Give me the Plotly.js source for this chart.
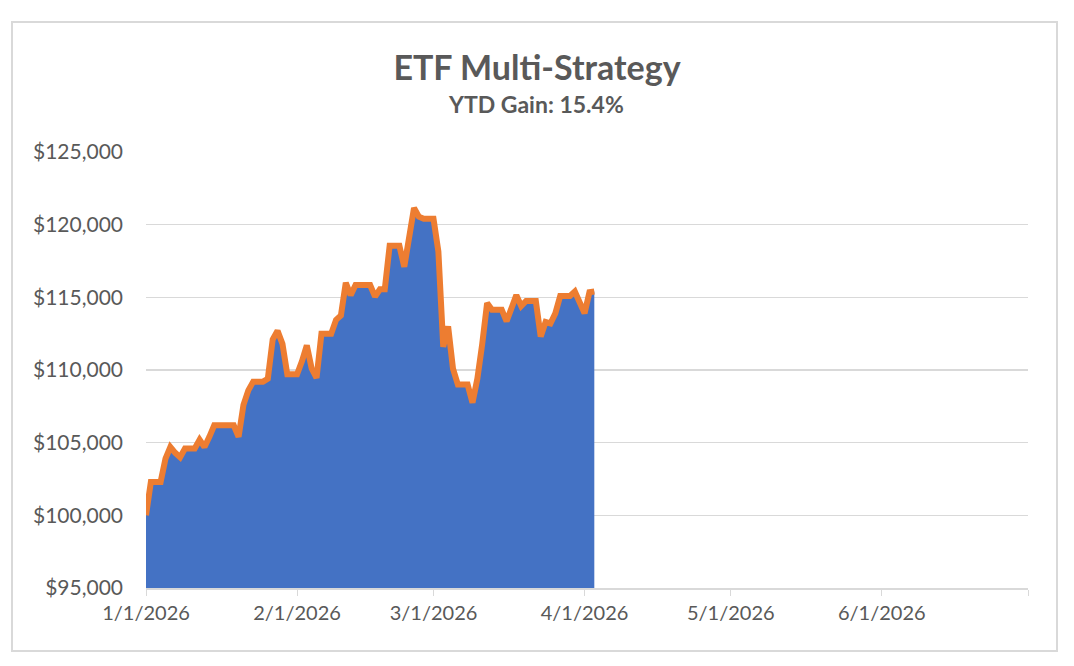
<!DOCTYPE html>
<html>
<head>
<meta charset="utf-8">
<script src="https://cdn.plot.ly/plotly-3.0.1.min.js"></script>
<style>
  html, body { margin: 0; padding: 0; background: #ffffff; }
  #frame {
    position: absolute; left: 11px; top: 21px;
    width: 1047px; height: 631px;
    box-sizing: border-box;
    border: 2px solid #d9d9d9;
  }
  #chart { position: absolute; left: 0; top: 0; width: 1074px; height: 666px; }
</style>
</head>
<body>
<div id="frame"></div>
<div id="chart"></div>
<script>
// daily account value, weekends carry the Friday close
var dates = [
    '2026-01-01', '2026-01-02', '2026-01-03', '2026-01-04', '2026-01-05', '2026-01-06', '2026-01-07',
    '2026-01-08', '2026-01-09', '2026-01-10', '2026-01-11', '2026-01-12', '2026-01-13', '2026-01-14',
    '2026-01-15', '2026-01-16', '2026-01-17', '2026-01-18', '2026-01-19', '2026-01-20', '2026-01-21',
    '2026-01-22', '2026-01-23', '2026-01-24', '2026-01-25', '2026-01-26', '2026-01-27', '2026-01-28',
    '2026-01-29', '2026-01-30', '2026-01-31', '2026-02-01', '2026-02-02', '2026-02-03', '2026-02-04',
    '2026-02-05', '2026-02-06', '2026-02-07', '2026-02-08', '2026-02-09', '2026-02-10', '2026-02-11',
    '2026-02-12', '2026-02-13', '2026-02-14', '2026-02-15', '2026-02-16', '2026-02-17', '2026-02-18',
    '2026-02-19', '2026-02-20', '2026-02-21', '2026-02-22', '2026-02-23', '2026-02-24', '2026-02-25',
    '2026-02-26', '2026-02-27', '2026-02-28', '2026-03-01', '2026-03-02', '2026-03-03', '2026-03-04',
    '2026-03-05', '2026-03-06', '2026-03-07', '2026-03-08', '2026-03-09', '2026-03-10', '2026-03-11',
    '2026-03-12', '2026-03-13', '2026-03-14', '2026-03-15', '2026-03-16', '2026-03-17', '2026-03-18',
    '2026-03-19', '2026-03-20', '2026-03-21', '2026-03-22', '2026-03-23', '2026-03-24', '2026-03-25',
    '2026-03-26', '2026-03-27', '2026-03-28', '2026-03-29', '2026-03-30', '2026-03-31', '2026-04-01',
    '2026-04-02', '2026-04-03'
]
var values = [
    100000, 102300, 102300, 102300, 103900, 104700, 104300,
    104000, 104600, 104600, 104600, 105200, 104700, 105400,
    106200, 106200, 106200, 106200, 106200, 105400, 107600,
    108600, 109200, 109200, 109200, 109400, 112100, 112700,
    111800, 109700, 109700, 109700, 110600, 111700, 110100,
    109450, 112500, 112500, 112500, 113450, 113750, 116000,
    115150, 115850, 115850, 115850, 115850, 115050, 115550,
    115550, 118550, 118550, 118550, 117100, 119400, 121150,
    120550, 120400, 120400, 120400, 118150, 111600, 113000,
    110100, 109000, 109000, 109000, 107750, 109400, 111800,
    114600, 114150, 114150, 114150, 113350, 114250, 115150,
    114400, 114750, 114750, 114750, 112300, 113300, 113200,
    113900, 115100, 115100, 115100, 115400, 114700, 113900,
    115350, 115400
]
var tickDates = ['2026-01-01', '2026-02-01', '2026-03-01', '2026-04-01', '2026-05-01', '2026-06-01', '2026-07-01']
var tickLabels = ['1/1/2026', '2/1/2026', '3/1/2026', '4/1/2026', '5/1/2026', '6/1/2026', '']
var chartTitle = 'ETF Multi-Strategy'
var subTitle = 'YTD Gain: 15.4%'

var textColor = '#595959'
var gridColor = '#d9d9d9'

Plotly.newPlot('chart', [{
    x: dates,
    y: values,
    type: 'scatter',
    mode: 'lines',
    fill: 'tozeroy',
    fillcolor: '#4472c4',
    line: { color: '#ed7d31', width: 6 },
    hoverinfo: 'x+y'
}], {
    width: 1074,
    height: 666,
    margin: { l: 146, r: 46, t: 152, b: 78 },
    paper_bgcolor: 'rgba(0,0,0,0)',
    plot_bgcolor: 'rgba(0,0,0,0)',
    font: { family: 'Lato, sans-serif', color: textColor },
    showlegend: false,
    title: {
        text: '<b>' + chartTitle + '</b>',
        font: { size: 34, color: textColor, family: 'Lato, sans-serif' },
        xref: 'container', x: 0.5, xanchor: 'center',
        yref: 'container', y: 1 - 68 / 666, yanchor: 'middle'
    },
    annotations: [{
        text: '<b>' + subTitle + '</b>',
        font: { size: 23, color: textColor, family: 'Lato, sans-serif' },
        xref: 'paper', x: (536 - 146) / 882, xanchor: 'center',
        yref: 'paper', y: (588 - 104) / 436, yanchor: 'middle',
        showarrow: false
    }],
    xaxis: {
        type: 'date',
        range: ['2026-01-01', '2026-07-01'],
        tickmode: 'array',
        tickvals: tickDates,
        ticktext: tickLabels,
        ticks: 'outside',
        ticklen: 6,
        tickcolor: gridColor,
        showline: true,
        linecolor: gridColor,
        linewidth: 1.5,
        showgrid: false,
        zeroline: false,
        tickfont: { size: 20, color: textColor }
    },
    yaxis: {
        range: [95000, 125000],
        dtick: 5000,
        tickformat: '$,.0f',
        showgrid: true,
        gridcolor: gridColor,
        gridwidth: 1.5,
        zeroline: false,
        showline: false,
        ticks: '',
        ticklabelstandoff: 22,
        tickfont: { size: 21, color: textColor }
    }
}, { displayModeBar: false, staticPlot: true })
</script>
</body>
</html>
